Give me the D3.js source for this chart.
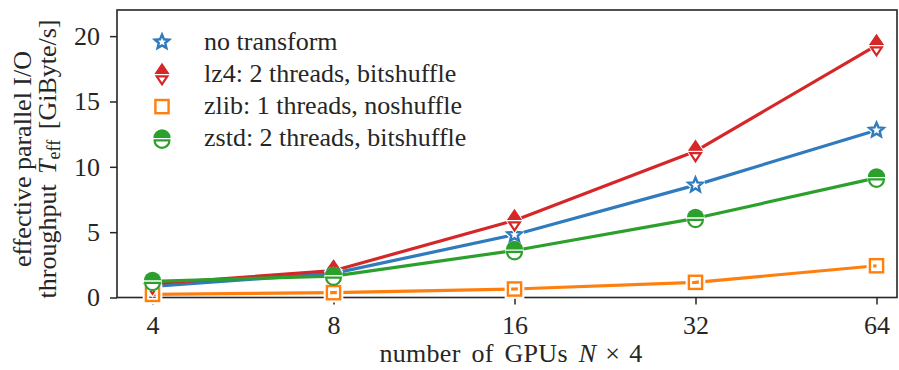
<!DOCTYPE html>
<html>
<head>
<meta charset="utf-8">
<script src="https://cdn.jsdelivr.net/npm/d3@7"></script>
<style>
  html, body { margin: 0; padding: 0; background: #fff; }
  svg text { font-family: "Liberation Serif", serif; fill: #262626; }
</style>
</head>
<body>
<svg id="chart" width="899" height="370"></svg>
<script>
// GPU counts (N x 4) and effective throughput in GiByte/s
const gpus = [4, 8, 16, 32, 64];
const noTransform = [0.85, 1.85, 4.8, 8.6, 12.8];
const lz4 = [1.05, 2.05, 5.9, 11.2, 19.3];
const zlib = [0.24, 0.37, 0.65, 1.16, 2.43];
const zstd = [1.24, 1.64, 3.6, 6.06, 9.15];
const yTicks = [0, 5, 10, 15, 20];

const series = [
  { label: "no transform", values: noTransform, color: "#2f7bbd", marker: "star" },
  { label: "lz4: 2 threads, bitshuffle", values: lz4, color: "#d62728", marker: "diamond" },
  { label: "zlib: 1 threads, noshuffle", values: zlib, color: "#ff7f0e", marker: "square" },
  { label: "zstd: 2 threads, bitshuffle", values: zstd, color: "#2ca02c", marker: "circle" }
];

const svg = d3.select("#chart");
const frame = { left: 117, right: 897, top: 10, bottom: 297.5 };

const x = d3.scaleLog().base(2).domain([4, 64]).range([152.5, 876.5]);
const y = d3.scaleLinear().domain([0, 22]).range([frame.bottom, frame.top]);

// axes
const xAxis = d3.axisBottom(x).tickValues(gpus).tickFormat(d3.format("d")).tickSize(7).tickPadding(11);
const yAxis = d3.axisLeft(y).tickValues(yTicks).tickSize(7).tickPadding(10);

const gx = svg.append("g").attr("transform", `translate(0,${frame.bottom})`).call(xAxis);
const gy = svg.append("g").attr("transform", `translate(${frame.left},0)`).call(yAxis);
[gx, gy].forEach(g => {
  g.select(".domain").remove();
  g.selectAll(".tick line").attr("stroke", "#262626").attr("stroke-width", 1.5);
  g.selectAll(".tick text").attr("font-size", 26).attr("font-family", "Liberation Serif, serif").attr("fill", "#262626");
});

// plot frame
svg.append("rect")
  .attr("x", frame.left).attr("y", frame.top)
  .attr("width", frame.right - frame.left).attr("height", frame.bottom - frame.top)
  .attr("fill", "none").attr("stroke", "#262626").attr("stroke-width", 1.6);

// marker drawing
function drawMarker(g, kind, color) {
  const halo = "#fff";
  if (kind === "star") {
    const pts = [];
    for (let i = 0; i < 10; i++) {
      const r = i % 2 === 0 ? 7.5 : 3.4;
      const a = -Math.PI / 2 + i * Math.PI / 5;
      pts.push([r * Math.cos(a), r * Math.sin(a)]);
    }
    const p = "M" + pts.map(d => d.join(",")).join("L") + "Z";
    g.append("path").attr("d", p).attr("fill", "none").attr("stroke", halo).attr("stroke-width", 5).attr("stroke-linejoin", "round");
    g.append("path").attr("d", p).attr("fill", "#fff").attr("stroke", color).attr("stroke-width", 2.4).attr("stroke-linejoin", "miter");
  } else if (kind === "diamond") {
    const w = 6.5, h = 10.5;
    const full = `M0,${-h}L${w},0L0,${h}L${-w},0Z`;
    g.append("path").attr("d", full).attr("fill", halo).attr("stroke", halo).attr("stroke-width", 4);
    g.append("path").attr("d", `M0,${-h}L${w},-1L${-w},-1Z`).attr("fill", color).attr("stroke", color).attr("stroke-width", 1.2);
    g.append("path").attr("d", `M${-w + 1.2},2L${w - 1.2},2L0,${h - 0.5}Z`).attr("fill", "#fff").attr("stroke", color).attr("stroke-width", 2.2);
  } else if (kind === "square") {
    const s = 6.6;
    g.append("rect").attr("x", -s).attr("y", -s).attr("width", 2 * s).attr("height", 2 * s)
      .attr("fill", "none").attr("stroke", halo).attr("stroke-width", 6.5);
    g.append("rect").attr("x", -s).attr("y", -s).attr("width", 2 * s).attr("height", 2 * s)
      .attr("fill", "none").attr("stroke", color).attr("stroke-width", 2.4);
  } else if (kind === "circle") {
    const r = 7.6;
    g.append("circle").attr("r", r + 1.6).attr("fill", halo);
    g.append("path").attr("d", d3.arc()({ innerRadius: 0, outerRadius: r + 1, startAngle: -Math.PI / 2, endAngle: Math.PI / 2 }))
      .attr("transform", "translate(0,-1)").attr("fill", color);
    const rb = r - 0.2;
    g.append("path").attr("d", `M${-rb},1.5L${rb},1.5A${rb},${rb} 0 0 1 ${-rb},1.5Z`)
      .attr("fill", "#fff").attr("stroke", color).attr("stroke-width", 2.2);
  }
}

const line = d3.line().x((d, i) => x(gpus[i])).y(d => y(d));
const plot = svg.append("g");

// lines then markers, series order as listed
series.forEach(s => {
  plot.append("path").datum(s.values).attr("d", line)
    .attr("fill", "none").attr("stroke", s.color).attr("stroke-width", 3.2).attr("stroke-linejoin", "round");
});
series.forEach(s => {
  s.values.forEach((v, i) => {
    const g = plot.append("g").attr("transform", `translate(${x(gpus[i])},${y(v)})`);
    drawMarker(g, s.marker, s.color);
  });
});

// legend
const legend = svg.append("g").attr("transform", "translate(162,42)");
series.forEach((s, i) => {
  const row = legend.append("g").attr("transform", `translate(0,${i * 32.3})`);
  drawMarker(row.append("g"), s.marker, s.color);
  row.append("text").attr("x", 42).attr("y", 7.5).attr("font-size", 26).text(s.label);
});

// axis titles
svg.append("text")
  .attr("x", (frame.left + frame.right) / 2 + 4).attr("y", 362)
  .attr("text-anchor", "middle").attr("font-size", 26)
  .attr("word-spacing", 4).attr("letter-spacing", 0.3)
  .html('number of GPUs <tspan font-style="italic">N</tspan><tspan dx="9">×</tspan><tspan dx="9">4</tspan>');

const ylab = svg.append("g").attr("transform", "translate(0,159) rotate(-90)");
ylab.append("text").attr("x", 0).attr("y", 31).attr("text-anchor", "middle").attr("font-size", 26)
  .text("effective parallel I/O");
ylab.append("text").attr("x", 0).attr("y", 56).attr("text-anchor", "middle").attr("font-size", 26)
  .attr("word-spacing", 4)
  .html('throughput <tspan font-style="italic">T</tspan><tspan font-size="18" dy="4">eff</tspan><tspan dy="-4"> [GiByte/s]</tspan>');
</script>
</body>
</html>
